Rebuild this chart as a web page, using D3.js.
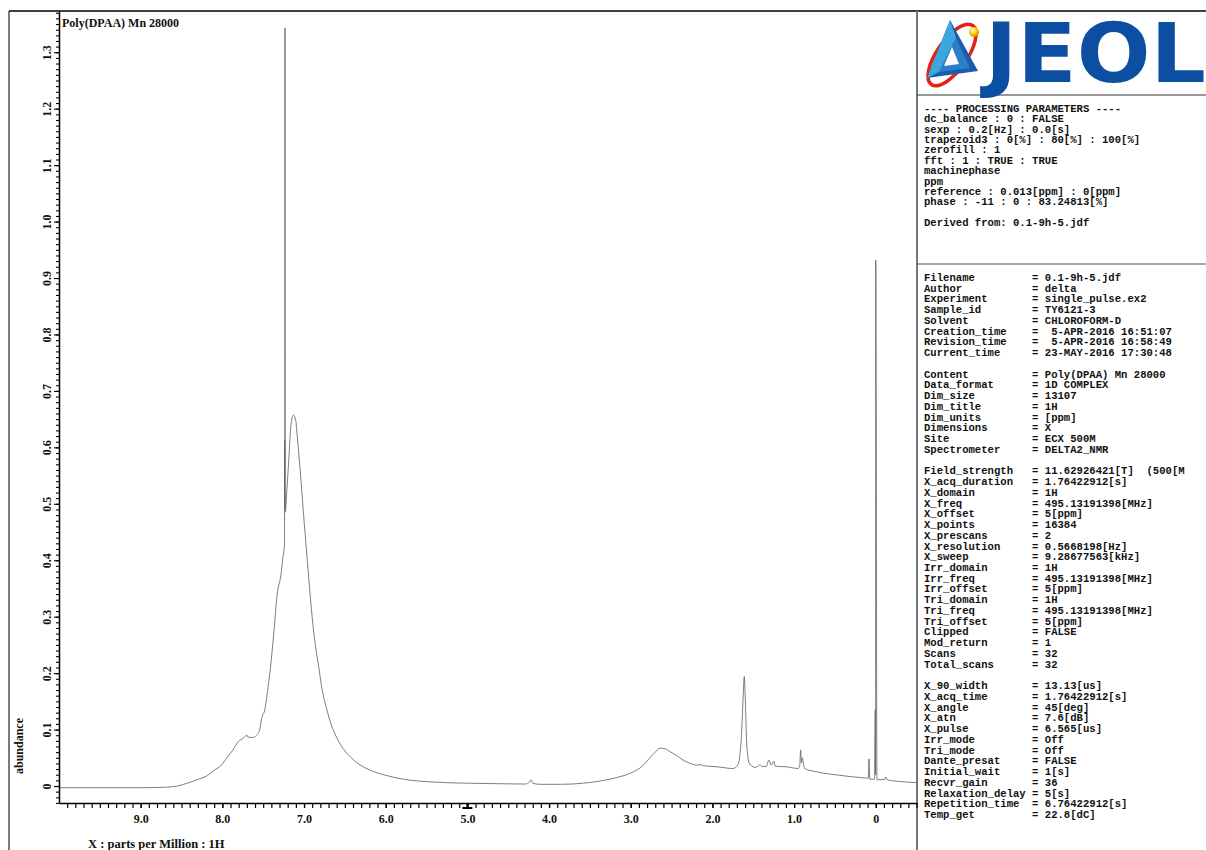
<!DOCTYPE html>
<html>
<head>
<meta charset="utf-8">
<script src="https://cdn.jsdelivr.net/npm/d3@7"></script>
<style>
  html, body { margin: 0; padding: 0; background: #fff; }
  svg { display: block; }
  .mono { font-family: "Liberation Mono", "Courier New", monospace; font-weight: bold; font-size: 10.6px; white-space: pre; fill: #111; }
  .serif { font-family: "Liberation Serif", "Times New Roman", serif; font-weight: bold; fill: #111; }
</style>
</head>
<body>
<svg id="chart" width="1206" height="850"></svg>
<script>
// ---------------- data ----------------
const title = "Poly(DPAA) Mn 28000";
const xLabel = "X : parts per Million : 1H";
const yLabel = "abundance";

// spectrum (ppm, abundance)
const ppm = [10.0, 9.0, 8.67, 8.55, 8.43, 8.31, 8.18, 8.11, 8.01, 7.94, 7.87, 7.81, 7.74, 7.70, 7.69, 7.63, 7.58, 7.54, 7.52, 7.51, 7.48, 7.45, 7.41, 7.37, 7.33, 7.28, 7.26, 7.239, 7.2365, 7.235, 7.233, 7.231, 7.21, 7.18, 7.16, 7.13, 7.10, 7.09, 7.05, 7.01, 6.96, 6.92, 6.88, 6.82, 6.78, 6.72, 6.67, 6.59, 6.52, 6.43, 6.31, 6.19, 6.00, 5.82, 5.42, 5.00, 4.60, 4.29, 4.24, 4.22, 4.20, 4.11, 3.86, 3.58, 3.37, 3.17, 2.97, 2.86, 2.76, 2.70, 2.64, 2.58, 2.52, 2.44, 2.36, 2.27, 2.19, 2.15, 2.11, 1.94, 1.75, 1.69, 1.65, 1.625, 1.61, 1.597, 1.58, 1.55, 1.48, 1.44, 1.42, 1.39, 1.37, 1.34, 1.31, 1.28, 1.25, 1.23, 1.09, 0.95, 0.93, 0.92, 0.91, 0.90, 0.88, 0.87, 0.72, 0.44, 0.19, 0.09, 0.083, 0.072, 0.015, 0.006, 0.004, 0.002, 0.0, -0.015, -0.11, -0.125, -0.14, -0.30, -0.50];
const abundance = [-0.003, -0.003, -0.002, 0.000, 0.005, 0.011, 0.019, 0.027, 0.037, 0.051, 0.064, 0.078, 0.085, 0.090, 0.087, 0.086, 0.090, 0.101, 0.119, 0.124, 0.135, 0.165, 0.211, 0.271, 0.338, 0.377, 0.404, 0.427, 0.613, 0.490, 1.343, 0.485, 0.524, 0.595, 0.640, 0.657, 0.647, 0.631, 0.565, 0.489, 0.400, 0.330, 0.271, 0.211, 0.172, 0.135, 0.110, 0.083, 0.066, 0.051, 0.037, 0.028, 0.019, 0.013, 0.007, 0.005, 0.004, 0.0035, 0.007, 0.011, 0.005, 0.003, 0.003, 0.005, 0.009, 0.015, 0.025, 0.035, 0.051, 0.060, 0.067, 0.066, 0.061, 0.054, 0.046, 0.040, 0.037, 0.038, 0.036, 0.034, 0.031, 0.037, 0.076, 0.152, 0.194, 0.152, 0.076, 0.041, 0.033, 0.035, 0.038, 0.034, 0.035, 0.034, 0.046, 0.037, 0.044, 0.035, 0.034, 0.031, 0.037, 0.064, 0.041, 0.050, 0.035, 0.031, 0.025, 0.019, 0.015, 0.014, 0.048, 0.012, 0.012, 0.135, 0.030, 0.020, 0.932, 0.011, 0.012, 0.016, 0.011, 0.008, 0.006];

const xMajorTicks = [9, 8, 7, 6, 5, 4, 3, 2, 1, 0];
const xTickLabels = ["9.0", "8.0", "7.0", "6.0", "5.0", "4.0", "3.0", "2.0", "1.0", "0"];
const yMajorTicks = [0, 0.1, 0.2, 0.3, 0.4, 0.5, 0.6, 0.7, 0.8, 0.9, 1.0, 1.1, 1.2, 1.3];
const yTickLabels = ["0", "0.1", "0.2", "0.3", "0.4", "0.5", "0.6", "0.7", "0.8", "0.9", "1.0", "1.1", "1.2", "1.3"];
const offsetMarkerPpm = 5.0;

const processingLines = [
  "---- PROCESSING PARAMETERS ----",
  "dc_balance : 0 : FALSE",
  "sexp : 0.2[Hz] : 0.0[s]",
  "trapezoid3 : 0[%] : 80[%] : 100[%]",
  "zerofill : 1",
  "fft : 1 : TRUE : TRUE",
  "machinephase",
  "ppm",
  "reference : 0.013[ppm] : 0[ppm]",
  "phase : -11 : 0 : 83.24813[%]",
  "",
  "Derived from: 0.1-9h-5.jdf"
];

const paramNames = ["Filename", "Author", "Experiment", "Sample_id", "Solvent", "Creation_time", "Revision_time", "Current_time", "",
  "Content", "Data_format", "Dim_size", "Dim_title", "Dim_units", "Dimensions", "Site", "Spectrometer", "",
  "Field_strength", "X_acq_duration", "X_domain", "X_freq", "X_offset", "X_points", "X_prescans", "X_resolution", "X_sweep",
  "Irr_domain", "Irr_freq", "Irr_offset", "Tri_domain", "Tri_freq", "Tri_offset", "Clipped", "Mod_return", "Scans", "Total_scans", "",
  "X_90_width", "X_acq_time", "X_angle", "X_atn", "X_pulse", "Irr_mode", "Tri_mode", "Dante_presat", "Initial_wait",
  "Recvr_gain", "Relaxation_delay", "Repetition_time", "Temp_get"];
const paramValues = ["0.1-9h-5.jdf", "delta", "single_pulse.ex2", "TY6121-3", "CHLOROFORM-D", " 5-APR-2016 16:51:07", " 5-APR-2016 16:58:49", "23-MAY-2016 17:30:48", "",
  "Poly(DPAA) Mn 28000", "1D COMPLEX", "13107", "1H", "[ppm]", "X", "ECX 500M", "DELTA2_NMR", "",
  "11.62926421[T]  (500[M", "1.76422912[s]", "1H", "495.13191398[MHz]", "5[ppm]", "16384", "2", "0.5668198[Hz]", "9.28677563[kHz]",
  "1H", "495.13191398[MHz]", "5[ppm]", "1H", "495.13191398[MHz]", "5[ppm]", "FALSE", "1", "32", "32", "",
  "13.13[us]", "1.76422912[s]", "45[deg]", "7.6[dB]", "6.565[us]", "Off", "Off", "FALSE", "1[s]",
  "36", "5[s]", "6.76422912[s]", "22.8[dC]"];

// ---------------- drawing ----------------
const svg = d3.select("#chart");

const x = d3.scaleLinear().domain([10.0, -0.505]).range([59, 917]);
const y = d3.scaleLinear().domain([-0.0301, 1.3731]).range([803, 11]);

// frame lines
svg.append("line").attr("x1", 9).attr("x2", 1206).attr("y1", 11).attr("y2", 11).attr("stroke", "#000").attr("stroke-width", 1.5);
svg.append("line").attr("x1", 9).attr("x2", 9).attr("y1", 11).attr("y2", 850).attr("stroke", "#222").attr("stroke-width", 1.2);
svg.append("line").attr("x1", 917).attr("x2", 917).attr("y1", 11).attr("y2", 850).attr("stroke", "#777").attr("stroke-width", 2);
svg.append("line").attr("x1", 917).attr("x2", 1206).attr("y1", 95).attr("y2", 95).attr("stroke", "#333").attr("stroke-width", 1);
svg.append("line").attr("x1", 917).attr("x2", 1206).attr("y1", 264).attr("y2", 264).attr("stroke", "#555").attr("stroke-width", 1);

// spectrum
const pts = ppm.map((p, i) => [x(p), y(abundance[i])]);
svg.append("path").datum(pts).attr("d", d3.line().curve(d3.curveMonotoneX))
  .attr("fill", "none").attr("stroke", "#666").attr("stroke-width", 0.85).attr("stroke-linejoin", "round");

// x axis
const xMinor = d3.range(-5, 100).map(v => v / 10);
const gx = svg.append("g").attr("transform", "translate(0,803)");
gx.call(d3.axisBottom(x).tickValues(xMinor).tickSize(5).tickFormat("").tickSizeOuter(0));
gx.call(g => g.select(".domain").remove());
const gxMaj = svg.append("g").attr("transform", "translate(0,803)");
gxMaj.call(d3.axisBottom(x).tickValues(xMajorTicks).tickSize(5).tickPadding(6)
  .tickFormat((d, i) => xTickLabels[i]).tickSizeOuter(0));
gxMaj.select(".domain").attr("stroke-width", 1.5);
[gx, gxMaj].forEach(g => g.selectAll(".tick line").attr("stroke", "#000").attr("stroke-width", 1.2));
gxMaj.selectAll(".tick text").attr("class", "serif").style("font-size", "12px").attr("fill", "#111");
// offset marker
svg.append("line").attr("x1", x(offsetMarkerPpm) - 5).attr("x2", x(offsetMarkerPpm) + 5).attr("y1", 808).attr("y2", 808).attr("stroke", "#000").attr("stroke-width", 2);
svg.append("line").attr("x1", x(offsetMarkerPpm)).attr("x2", x(offsetMarkerPpm)).attr("y1", 803).attr("y2", 808).attr("stroke", "#000").attr("stroke-width", 2);

// y axis
const yMinor = d3.range(-3, 138).map(v => v / 100);
const gy = svg.append("g").attr("transform", "translate(59,0)");
gy.call(d3.axisLeft(y).tickValues(yMinor).tickSize(3).tickFormat("").tickSizeOuter(0));
gy.select(".domain").attr("stroke-width", 1.5);
const gyMaj = svg.append("g").attr("transform", "translate(59,0)");
gyMaj.call(d3.axisLeft(y).tickValues(yMajorTicks).tickSize(5).tickFormat((d, i) => yTickLabels[i]).tickSizeOuter(0));
gyMaj.select(".domain").remove();
[gy, gyMaj].forEach(g => g.selectAll(".tick line").attr("stroke", "#000").attr("stroke-width", 1.1));
gyMaj.selectAll(".tick text").attr("class", "serif").style("font-size", "12px")
  .attr("transform", "rotate(-90)").attr("x", 0).attr("y", -8).attr("dy", 0)
  .attr("text-anchor", "middle").attr("fill", "#111");

// titles
svg.append("text").attr("class", "serif").attr("x", 62).attr("y", 27).style("font-size", "12px").text(title);
svg.append("text").attr("class", "serif").attr("x", 88).attr("y", 848).style("font-size", "12.5px").text(xLabel);
svg.append("text").attr("class", "serif").attr("transform", "translate(23,746) rotate(-90)")
  .attr("text-anchor", "middle").style("font-size", "12px").text(yLabel);

// logo
const logo = svg.append("g");
const defs = svg.append("defs");
const rg = defs.append("radialGradient").attr("id", "ball").attr("cx", "40%").attr("cy", "35%").attr("r", "60%");
rg.append("stop").attr("offset", "0%").attr("stop-color", "#fffbd0");
rg.append("stop").attr("offset", "60%").attr("stop-color", "#f5d000");
rg.append("stop").attr("offset", "100%").attr("stop-color", "#d49a00");
logo.append("ellipse").attr("cx", 952).attr("cy", 55).attr("rx", 15).attr("ry", 36)
  .attr("transform", "rotate(35,952,55)").attr("fill", "none").attr("stroke", "#e32119").attr("stroke-width", 3.5);
logo.append("polygon").attr("points", "950,20 927,78 978,71").attr("fill", "#1b5cae");
logo.append("polygon").attr("points", "950,20 956,38 939,72 927,78").attr("fill", "#3ea6df");
logo.append("polygon").attr("points", "956,38 970,68 939,72").attr("fill", "#2a7fc8");
logo.append("polygon").attr("points", "952,47 959,64 944,66").attr("fill", "#fff");
logo.append("circle").attr("cx", 974).attr("cy", 32).attr("r", 5).attr("fill", "url(#ball)");
logo.append("text").attr("x", 985).attr("y", 82).attr("textLength", 221).attr("lengthAdjust", "spacingAndGlyphs")
  .style("font-family", "'DejaVu Sans', sans-serif").style("font-weight", "bold").style("font-size", "82px")
  .attr("fill", "#0c4fa2").text("JEOL");

// processing parameters
svg.append("g").selectAll("text").data(processingLines).join("text")
  .attr("class", "mono").attr("x", 924).attr("y", (d, i) => 112 + i * 10.37).text(d => d);

// acquisition parameters
const paramLines = paramNames.map((n, i) => n === "" ? "" : n.padEnd(17, " ") + "= " + paramValues[i]);
svg.append("g").selectAll("text").data(paramLines).join("text")
  .attr("class", "mono").attr("x", 924).attr("y", (d, i) => 281 + i * 10.74).text(d => d);
</script>
</body>
</html>
